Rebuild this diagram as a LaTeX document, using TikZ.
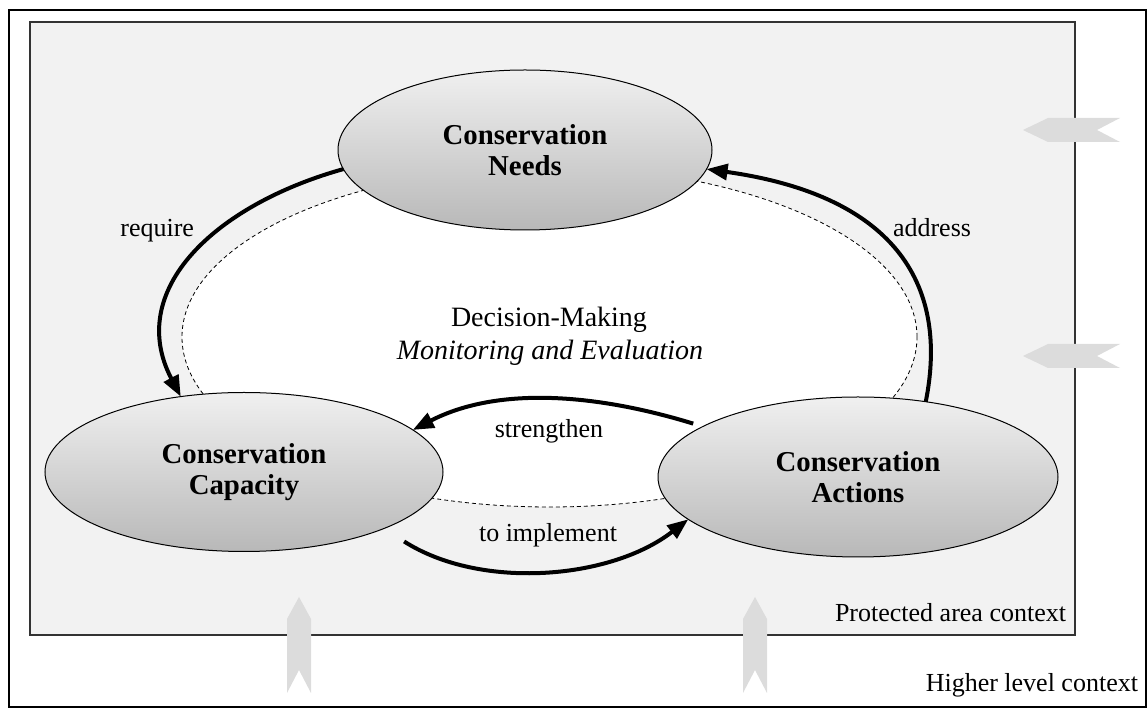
\documentclass[tikz,border=0pt]{standalone}
\usepackage{fontspec}
\setmainfont{Liberation Serif}
\usetikzlibrary{arrows.meta,shapes.geometric}
\definecolor{ctxfill}{HTML}{F2F2F2}
\definecolor{ctxline}{HTML}{333333}
\definecolor{chevgray}{HTML}{DCDCDC}
\definecolor{bubtop}{HTML}{F0F0F0}
\definecolor{bubbot}{HTML}{B8B8B8}
\tikzset{
  every node/.style={inner sep=0pt,outer sep=0pt},
  lab/.style={font=\fontsize{13}{15}\selectfont},
  midtext/.style={font=\fontsize{14}{16}\selectfont,anchor=base},
  bubble/.style={ellipse,draw=black,line width=0.5pt,top color=bubtop,bottom color=bubbot,
    font=\fontsize{14.4}{15.5}\selectfont\bfseries,align=center},
  flow/.style={line width=2pt,-{Triangle[length=10.5pt,width=8pt]}},
  chev/.style={fill=chevgray}
}
\begin{document}
\begin{tikzpicture}[x=0.5pt,y=-0.5pt]
\useasboundingbox (0,0) rectangle (1148,710);
% outer (higher level) context
\draw[black,line width=0.6pt] (9,10) rectangle (1146,707);
% inner (protected area) context
\draw[ctxline,fill=ctxfill,line width=0.8pt] (30,22) rectangle (1075,635);
% decision loop
\node[ellipse,draw=black,dashed,dash pattern=on 2pt off 1.5pt,line width=0.4pt,fill=white,
  minimum width=367.5pt,minimum height=170pt] (loop) at (549.5,337) {};
\node[midtext] (dm) at (549,327) {Decision-Making};
\node[midtext,font=\fontsize{14}{16}\selectfont\itshape] (me) at (550,360) {Monitoring and Evaluation};
% main ellipses
\node[bubble,minimum width=187pt,minimum height=80pt] (needs) at (525,150) {Conservation\\Needs};
\node[bubble,minimum width=199pt,minimum height=79.5pt] (capacity) at (244,472) {Conservation\\Capacity};
\node[bubble,minimum width=200pt,minimum height=80pt] (actions) at (858,477) {Conservation\\Actions};
% connectors
\draw[flow] (needs.186) .. controls (215,205) and (125,290) .. (capacity.130);
\draw[flow] (actions.48) .. controls (950,280) and (890,195) .. (needs.-6);
\draw[flow,shorten <=5pt] (actions.162) .. controls (600,395) and (500,385) .. (capacity.14);
\draw[flow,shorten <=12pt] (capacity.-22) .. controls (480,590) and (610,580) .. (actions.194);
% labels
\node[lab,anchor=base east] (lreq) at (194,237) {require};
\node[lab,anchor=base west] (ladd) at (893,237) {address};
\node[lab,anchor=base] (lstr) at (549,438) {strengthen};
\node[lab,anchor=base] (limp) at (548,542) {to implement};
\node[lab,anchor=base east] (pac) at (1066,622) {Protected area context};
\node[lab,anchor=base east] (hlc) at (1138,692) {Higher level context};
% influence arrows
\fill[chev] (1023,130) -- (1048,118) -- (1120,118) -- (1097,130) -- (1120,142) -- (1048,142) -- cycle;
\fill[chev] (1023,356) -- (1048,344) -- (1120,344) -- (1097,356) -- (1120,368) -- (1048,368) -- cycle;
\fill[chev] (299,597) -- (311,619) -- (311,693) -- (299,670) -- (287,693) -- (287,619) -- cycle;
\fill[chev] (755,597) -- (767,619) -- (767,693) -- (755,670) -- (743,693) -- (743,619) -- cycle;
\end{tikzpicture}
\end{document}
